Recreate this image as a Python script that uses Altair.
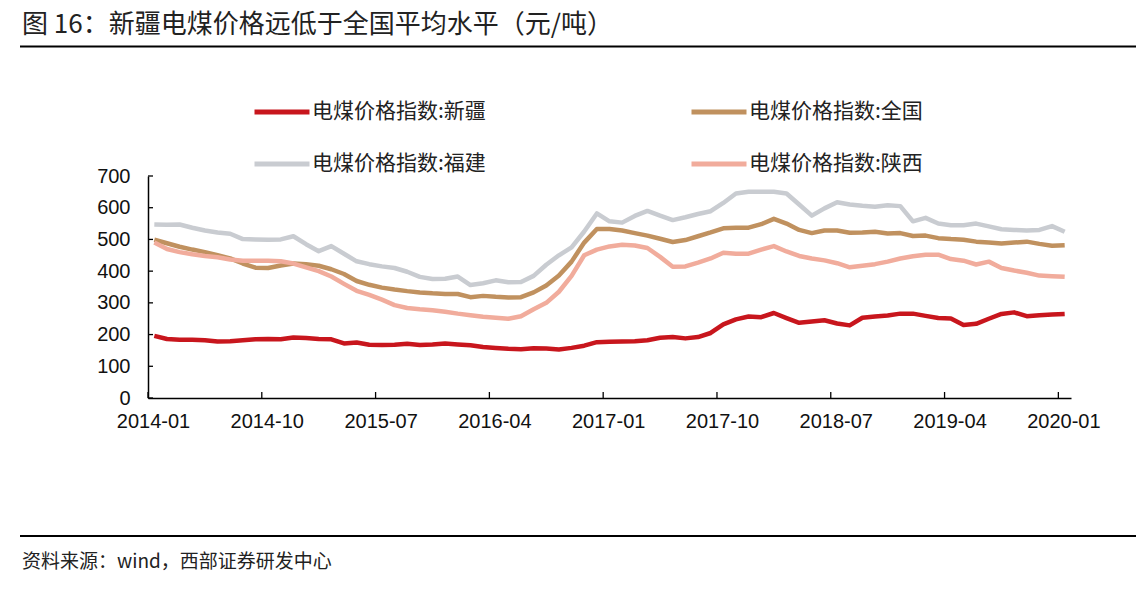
import altair as alt
import pandas as pd

# ---------------- data ----------------
months = [f"{y}-{m:02d}" for y in range(2014, 2021) for m in range(1, 13)][:73]  # 2014-01 .. 2020-01
tick_labels = ["2014-01", "2014-10", "2015-07", "2016-04", "2017-01",
               "2017-10", "2018-07", "2019-04", "2020-01"]
y_ticks = [0, 100, 200, 300, 400, 500, 600, 700]

series_names = ["电煤价格指数:新疆", "电煤价格指数:全国", "电煤价格指数:福建", "电煤价格指数:陕西"]
series_colors = ["#C8161D", "#C0915F", "#C9CCD1", "#F1AC9C"]

xinjiang = [196, 186, 184, 184, 182, 178, 179, 182, 185, 186, 185, 191, 189, 186, 185, 172,
            175, 168, 167, 168, 171, 167, 169, 172, 169, 166, 161, 158, 155, 154, 157, 156,
            153, 158, 165, 176, 177, 178, 179, 182, 190, 192, 188, 192, 205, 232, 248, 257,
            255, 268, 252, 237, 241, 245, 235, 229, 253, 257, 260, 266, 266, 259, 252, 251,
            230, 234, 250, 265, 270, 258, 261, 263, 265]
quanguo = [499, 488, 477, 468, 460, 450, 440, 424, 411, 410, 418, 424, 422, 417, 406, 391,
           369, 357, 348, 342, 337, 333, 330, 328, 328, 318, 322, 319, 317, 318, 333, 355,
           386, 430, 490, 533, 533, 528, 520, 512, 502, 492, 498, 510, 522, 535, 537, 537,
           548, 565, 550, 530, 520, 528, 528, 521, 522, 524, 519, 520, 511, 512, 504, 501,
           499, 493, 490, 487, 490, 493, 486, 480, 482]
fujian = [547, 546, 547, 537, 528, 522, 518, 501, 500, 499, 500, 510, 485, 463, 479, 455,
          431, 422, 415, 410, 398, 382, 375, 376, 383, 356, 362, 371, 365, 366, 385, 420,
          450, 475, 525, 582, 557, 553, 574, 590, 575, 561, 570, 580, 589, 615, 645, 650,
          650, 650, 645, 610, 575, 598, 617, 610, 606, 603, 608, 605, 557, 568, 550, 545,
          545, 550, 541, 532, 530, 528, 530, 542, 524]
shaanxi = [490, 470, 460, 453, 448, 444, 437, 433, 433, 433, 431, 424, 412, 400, 383, 360,
           338, 325, 310, 293, 284, 280, 277, 272, 266, 261, 256, 253, 250, 258, 280, 300,
           335, 385, 450, 468, 478, 483, 481, 473, 445, 414, 415, 427, 440, 458, 455, 455,
           468, 479, 462, 448, 440, 434, 425, 412, 417, 422, 430, 440, 447, 452, 452, 438,
           433, 421, 430, 410, 402, 395, 386, 384, 382]

title_text = "图 16：新疆电煤价格远低于全国平均水平（元/吨）"
source_text = "资料来源：wind，西部证券研发中心"

# ---------------- tables ----------------
rows = []
for k, (name, vals) in enumerate(zip(series_names, [xinjiang, quanguo, fujian, shaanxi])):
    for i, (mo, v) in enumerate(zip(months, vals)):
        rows.append({"month": mo, "pos": i + 0.5, "value": v, "series": name, "order": k})
df = pd.DataFrame(rows)
tick_pos = [months.index(t) for t in tick_labels]
xticks_df = pd.DataFrame({"pos": tick_pos})
yticks_df = pd.DataFrame({"v": y_ticks})

W, H = 923, 222
xscale = alt.Scale(domain=[0, len(months)], nice=False, zero=False)
yscale = alt.Scale(domain=[0, 700], nice=False)
label_expr = "[" + ",".join(f"'{m}'" for m in months) + "][datum.value]"

num_font = "Liberation Sans"
cjk_font = "Noto Sans CJK SC"

x_axis = alt.Axis(values=tick_pos, labelExpr=label_expr, ticks=False, grid=False,
                  domainColor="#000000", domainWidth=1.5, labelFont=num_font,
                  labelFontSize=20, labelColor="#111111", labelPadding=13,
                  labelOffset=5, labelFlush=False, labelOverlap=False, title=None)
y_axis = alt.Axis(values=y_ticks, ticks=False, grid=False, domainColor="#000000",
                  domainWidth=1.5, labelFont=num_font, labelFontSize=20,
                  labelColor="#111111", labelPadding=18, title=None)

lines = alt.Chart(df).mark_line(strokeWidth=4.5, strokeJoin="round").encode(
    x=alt.X("pos:Q", scale=xscale, axis=x_axis, title=None),
    y=alt.Y("value:Q", scale=yscale, axis=y_axis, title=None),
    color=alt.Color("series:N", scale=alt.Scale(domain=series_names, range=series_colors),
                    legend=alt.Legend(orient="none", legendX=104, legendY=-94, columns=2,
                                      direction="horizontal", title=None,
                                      symbolType="stroke", symbolSize=3025,
                                      symbolStrokeWidth=5, labelFont=cjk_font,
                                      labelFontSize=21, labelColor="#222222",
                                      labelOffset=0, columnPadding=195, rowPadding=12,
                                      labelLimit=400, padding=0)),
    order=alt.Order("order:Q"),
    detail="series:N",
)

xticks = alt.Chart(xticks_df).mark_rule(color="#000000", strokeWidth=1.3).encode(
    x=alt.X("pos:Q", scale=xscale, axis=x_axis, title=None),
    y=alt.value(H), y2=alt.value(H - 6))

yticks = alt.Chart(yticks_df).mark_rule(color="#000000", strokeWidth=1.3).encode(
    y=alt.Y("v:Q", scale=yscale, axis=y_axis, title=None),
    x=alt.value(0), x2=alt.value(5))

title = alt.Chart(pd.DataFrame({"t": [title_text]})).mark_text(
    align="left", baseline="middle", font=cjk_font, fontSize=26, color="#222222").encode(
    text="t:N", x=alt.value(-126), y=alt.value(-151))

title_rule = alt.Chart(pd.DataFrame({"a": [0]})).mark_rule(color="#000000", strokeWidth=2).encode(
    x=alt.value(-128), x2=alt.value(990), y=alt.value(-129.5))

foot_rule = alt.Chart(pd.DataFrame({"a": [0]})).mark_rule(color="#000000", strokeWidth=2).encode(
    x=alt.value(-128), x2=alt.value(990), y=alt.value(360))

footer = alt.Chart(pd.DataFrame({"t": [source_text]})).mark_text(
    align="left", baseline="middle", font=cjk_font, fontSize=19, color="#222222").encode(
    text="t:N", x=alt.value(-126), y=alt.value(385.5))

chart = alt.layer(xticks, yticks, lines, title, title_rule, foot_rule, footer).properties(
    width=W, height=H,
    autosize=alt.AutoSizeParams(type="none"),
    padding={"left": 140, "top": 168, "right": 65, "bottom": 198},
    background="#ffffff",
).configure_view(stroke=None)

chart.save("out.html", embed_options={"renderer": "svg", "actions": False})
